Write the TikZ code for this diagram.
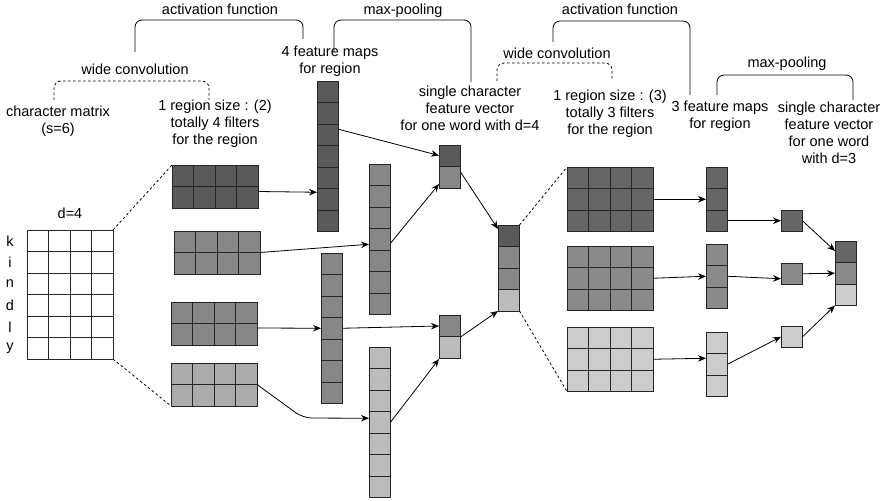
\documentclass[tikz,border=0pt]{standalone}
\usepackage{fontspec}
\setmainfont{Liberation Sans}
\usetikzlibrary{positioning,arrows.meta,calc}
\definecolor{cdark}{HTML}{5A5A5A}
\definecolor{cgrey}{HTML}{878787}
\definecolor{clight}{HTML}{ABABAB}
\definecolor{cpale}{HTML}{BCBCBC}
\definecolor{rdark}{HTML}{666666}
\definecolor{rgrey}{HTML}{8A8A8A}
\definecolor{rpale}{HTML}{CCCCCC}
\def\cs{21.5}
\tikzset{
  block/.style={draw=black!85,line width=0.8pt,inner sep=0pt,outer sep=0pt,anchor=north west},
  cellline/.style={draw=black!85,line width=0.8pt},
  arr/.style={->,line width=0.8pt},
  dotline/.style={line width=0.8pt,dash pattern=on 2.5pt off 2.5pt},
  brace/.style={line width=0.8pt,rounded corners=7pt},
  lbl/.style={font=\fontsize{14.5}{17}\selectfont,align=center,inner sep=0pt},
}
% grid of cells, one fill: name, x, y, columns, rows, fill
\newcommand{\cellgrid}[6]{%
  \node[block,fill=#6,minimum width=#4*\cs pt,minimum height=#5*\cs pt] (#1) at (#2,#3) {};
  \pgfmathtruncatemacro\nc{#4-1}
  \pgfmathtruncatemacro\nr{#5-1}
  \foreach \k in {1,...,\nc}
    \draw[cellline] ($(#1.north west)+(\k*\cs,0)$) -- ($(#1.south west)+(\k*\cs,0)$);
  \foreach \k in {1,...,\nr}
    \draw[cellline] ($(#1.north west)+(0,\k*\cs)$) -- ($(#1.north east)+(0,\k*\cs)$);
}
% column vector: name, x, y, cells, fills (top to bottom)
\newcommand{\cellcol}[5]{%
  \node[block,minimum width=\cs pt,minimum height=#4*\cs pt] (#1) at (#2,#3) {};
  \foreach \cc [count=\k from 0] in {#5}
    \filldraw[cellline,fill=\cc] ($(#1.north west)+(0,\k*\cs)$) rectangle ++(\cs,\cs);
}

\begin{document}
\begin{tikzpicture}[x=1pt,y=-1pt,>={Stealth[length=8pt,width=6.5pt]}]
\useasboundingbox (0,0) rectangle (890,500);

% top labels
\node[lbl] (act1) at (220,9) {activation function};
\node[lbl] (pool1) at (403,11) {max-pooling};
\node[lbl] (wide1) at (135,69) {wide convolution};
\node[lbl] (charmat) at (58,121.5) {character matrix\\(s=6)};
\node[lbl] (region1) at (215,124) {1 region size : (2)\\totally 4 filters\\for the region};
\node[lbl] (fmaps1) at (330,61.5) {4 feature maps\\for region};
\node[lbl] (single1) at (470,108.5) {single character\\feature vector\\for one word with d=4};
\node[lbl] (act2) at (620,9) {activation function};
\node[lbl] (wide2) at (557,53) {wide convolution};
\node[lbl] (region2) at (610,114) {1 region size : (3)\\totally 3 filters\\for the region};
\node[lbl] (fmaps2) at (720,116.5) {3 feature maps\\for region};
\node[lbl] (pool2) at (787,64) {max-pooling};
\node[lbl] (single2) at (829,133) {single character\\feature vector\\for one word\\with d=3};

% brackets
\draw[brace] (135,52) -- (135,20) -- (303,20) -- (303,39);
\draw[brace] (334,52) -- (334,20) -- (471,20) -- (471,82);
\draw[brace,dotline] (54,100) -- (54,81) -- (209,81) -- (209,100);
\draw[brace] (553,42) -- (553,21) -- (690,21) -- (690,95);
\draw[brace,dotline] (497,81) -- (497,63) -- (612,63) -- (612,81);
\draw[brace] (717,95) -- (717,75) -- (853,75) -- (853,100);

% character matrix
\cellgrid{mat}{27}{230}{4}{6}{white}
\node[lbl] (dim) at (70,213) {d=4};
\foreach \ch [count=\r from 0] in {k,i,n,d,l,y}
  \node[lbl] (ch\r) at (10,240.75+\r*21.5) {\ch};

% first filters
\cellgrid{f1}{172}{165}{4}{2}{cdark}
\cellgrid{f2}{174}{231}{4}{2}{cgrey}
\cellgrid{f3}{171}{302}{4}{2}{cgrey}
\cellgrid{f4}{171}{363}{4}{2}{clight}
\draw[dotline] (mat.north east) -- (f1.north west);
\draw[dotline] (mat.south east) -- (f4.south west);

% feature maps
\cellcol{m1}{317}{81}{7}{cdark,cdark,cdark,cdark,cdark,cdark,cdark}
\cellcol{m2}{369}{164}{7}{cgrey,cgrey,cgrey,cgrey,cgrey,cgrey,cgrey}
\cellcol{m3}{321}{253}{7}{cgrey,cgrey,cgrey,cgrey,cgrey,cgrey,cgrey}
\cellcol{m4}{369}{347}{7}{cpale,cpale,cpale,cpale,cpale,cpale,cpale}

% pooled
\cellcol{p1}{439}{145}{2}{cdark,cgrey}
\cellcol{p2}{439}{315}{2}{cgrey,cpale}
\cellcol{vec}{498}{225}{4}{cdark,cgrey,cgrey,cpale}

\coordinate (bend) at (303,418);
\draw[arr] ($(f1.east)+(0,5)$) -- ($(m1.west)+(0,36)$);
\draw[arr] (f2.east) -- ($(m2.west)+(0,5)$);
\draw[arr] ($(f3.east)+(0,4.5)$) -- (m3.west);
\draw[arr,rounded corners=9pt] (f4.east) -- (bend) -- ($(m4.west)+(0,-4)$);
\draw[arr] ($(m1.east)+(0,-27)$) -- ($(p1.west)+(0,-11)$);
\draw[arr] ($(m2.east)+(0,4)$) -- ($(p1.south west)+(0,-4)$);
\draw[arr] (m3.east) -- ($(p2.west)+(0,-10.5)$);
\draw[arr] (m4.east) -- ($(p2.south west)+(0,1)$);
\draw[arr] ($(p1.east)+(0,5.5)$) -- ($(vec.north west)+(0,4)$);
\draw[arr] ($(p2.east)+(0,0.5)$) -- (vec.south west);

% second layer
\cellgrid{g1}{567}{167}{4}{3}{rdark}
\cellgrid{g2}{567}{246}{4}{3}{rgrey}
\cellgrid{g3}{567}{327}{4}{3}{rpale}
\draw[dotline] (vec.north east) -- (g1.north west);
\draw[dotline] (vec.south east) -- (g3.south west);

\cellcol{h1}{706}{167}{3}{rdark,rdark,rdark}
\cellcol{h2}{706}{244}{3}{rgrey,rgrey,rgrey}
\cellcol{h3}{706}{332}{3}{rpale,rpale,rpale}
\cellcol{s1}{781}{210}{1}{rdark}
\cellcol{s2}{781}{263}{1}{rgrey}
\cellcol{s3}{781}{326}{1}{rpale}
\cellcol{fv}{835}{241}{3}{rdark,rgrey,rpale}

\draw[arr] (g1.east) -- (h1.west);
\draw[arr] (g2.east) -- (h2.west);
\draw[arr] (g3.east) -- ($(h3.west)+(0,-6)$);
\draw[arr] ($(h1.east)+(0,21.5)$) -- (s1.west);
\draw[arr] (h2.east) -- ($(s2.west)+(0,5)$);
\draw[arr] (h3.east) -- (s3.west);
\draw[arr] (s1.east) -- ($(fv.north west)+(0,10)$);
\draw[arr] (s2.east) -- (fv.west);
\draw[arr] (s3.east) -- (fv.south west);

\end{tikzpicture}
\end{document}
